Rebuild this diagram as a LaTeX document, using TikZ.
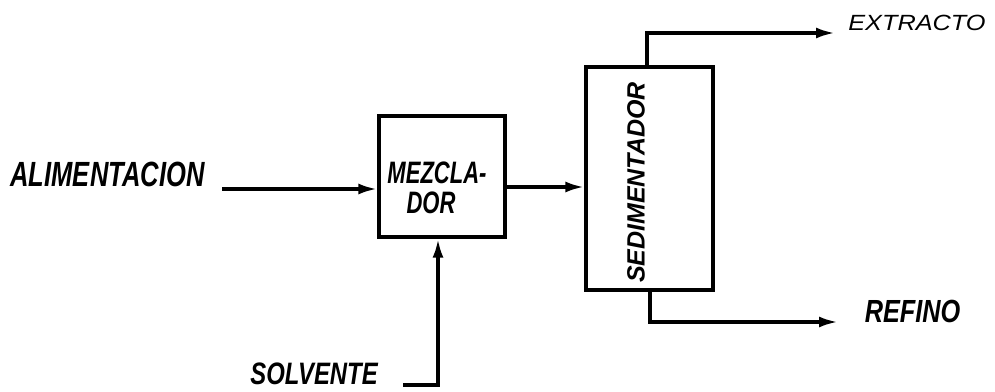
\documentclass[tikz,border=0pt]{standalone}
\usepackage{fontspec}
\setmainfont{Liberation Sans}
\usetikzlibrary{arrows.meta}
% hand-lettered label: size, horizontal squeeze, text
\newcommand{\handlbl}[3]{{\fontsize{#1}{#1}\selectfont\scalebox{#2}[1]{#3}}}
\begin{document}
\begin{tikzpicture}[x=1pt,y=1pt,
  flow/.style={line width=3.4pt, -{Latex[length=19pt,width=11pt]}},
  unitbox/.style={draw, line width=3.4pt, inner sep=0pt},
  lbl/.style={inner sep=0pt, font=\bfseries\itshape},
  thinlbl/.style={inner sep=0pt, font=\itshape}]
\useasboundingbox (0,0) rectangle (995,391);

% process units
\node[unitbox, minimum width=126pt, minimum height=121pt] (mix) at (442,214.5) {};
\node[unitbox, minimum width=127pt, minimum height=223pt] (sed) at (649.5,212.5) {};

\node[lbl] (mixA) at (437,218) {\handlbl{31}{0.71}{MEZCLA-}};
\node[lbl] (mixB) at (431,188) {\handlbl{31}{0.71}{DOR}};
\node[lbl, rotate=90] (sedtxt) at (636,208.5) {\handlbl{25}{1.0}{SEDIMENTADOR}};

% stream labels
\node[lbl] (feedtxt) at (107.5,216.5) {\handlbl{35}{0.73}{ALIMENTACION}};
\node[lbl] (solvtxt) at (314,17) {\handlbl{31}{0.77}{SOLVENTE}};
\node[thinlbl] (extxt) at (917,368.5) {\handlbl{22}{1.15}{EXTRACTO}};
\node[lbl] (raftxt) at (912.5,79.5) {\handlbl{32}{0.79}{REFINO}};

% stream routing points
\coordinate (feed) at (222,202);
\coordinate (m2s) at (505,204);
\coordinate (solvA) at (403,6);
\coordinate (solvB) at (438,6);
\coordinate (exup) at (647,358);
\coordinate (exend) at (835,358);
\coordinate (rafdn) at (650,69);
\coordinate (rafend) at (838,69);

% streams
\draw[flow] (feed) -- (feed -| mix.west);
\draw[flow] (m2s) -- (m2s -| sed.west);
\draw[flow] (solvA) -- (solvB) -- (solvB |- mix.south);
\draw[flow] (exup |- sed.north) -- (exup) -- (exend);
\draw[flow] (rafdn |- sed.south) -- (rafdn) -- (rafend);
\end{tikzpicture}
\end{document}
